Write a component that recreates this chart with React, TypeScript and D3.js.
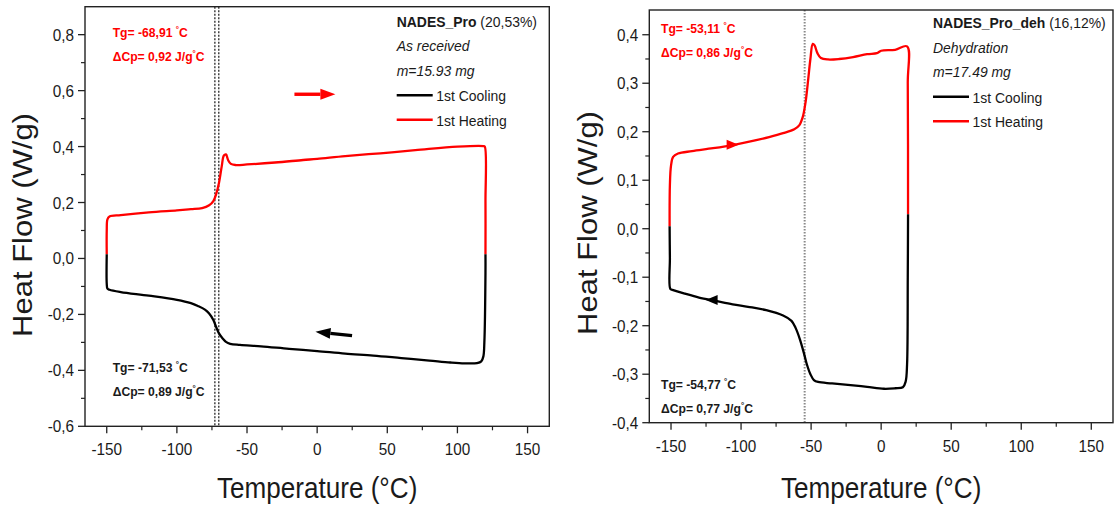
import React from "react";
import * as d3 from "d3";

// ---------- data ----------
type Pt = [number, number];

// Left panel: NADES_Pro (as received)
const leftHeating: Pt[] = [
  [-150, 0.015], [-150, 0.1], [-149.5, 0.14], [-148, 0.15], [-140, 0.155], [-120, 0.165],
  [-100, 0.172], [-90, 0.176], [-82, 0.18], [-77, 0.19], [-74, 0.205], [-72, 0.23],
  [-70, 0.27], [-68, 0.33], [-66.5, 0.368], [-65, 0.372], [-63.5, 0.352], [-61.5, 0.338],
  [-58, 0.334], [-50, 0.336], [-30, 0.343], [-10, 0.352], [0, 0.356], [20, 0.366],
  [45, 0.376], [70, 0.387], [100, 0.4], [118.5, 0.402], [119.5, 0.4], [120, 0.2], [120, 0.015],
];
const leftCooling: Pt[] = [
  [120, 0.015], [120, -0.05], [119.2, -0.3], [118.5, -0.35], [117, -0.368], [114, -0.374],
  [105, -0.375], [95, -0.372], [80, -0.365], [60, -0.356], [40, -0.347], [20, -0.34],
  [0, -0.331], [-20, -0.323], [-40, -0.314], [-55, -0.309], [-62, -0.305], [-65, -0.298],
  [-67.5, -0.285], [-70, -0.268], [-72, -0.245], [-74, -0.22], [-77, -0.197], [-80, -0.183],
  [-85, -0.17], [-90, -0.16], [-100, -0.148], [-120, -0.133], [-140, -0.12], [-148, -0.112],
  [-149.5, -0.108], [-150, -0.09], [-150, 0.015],
];

// Right panel: NADES_Pro_deh (dehydration)
const rightHeating: Pt[] = [
  [-151, 0.005], [-150.8, 0.09], [-150, 0.13], [-148.5, 0.148], [-145, 0.155], [-135, 0.16],
  [-120, 0.166], [-105, 0.173], [-90, 0.182], [-80, 0.189], [-70, 0.197], [-62, 0.205],
  [-58.5, 0.213], [-56, 0.23], [-54, 0.26], [-52, 0.31], [-50.5, 0.35], [-48.8, 0.381],
  [-47.5, 0.378], [-45.5, 0.362], [-43, 0.352], [-38, 0.349], [-30, 0.35], [-20, 0.354],
  [-10, 0.36], [-3, 0.362], [0, 0.367], [10, 0.369], [18.5, 0.376], [19, 0.3], [19.2, 0.03],
];
const rightCooling: Pt[] = [
  [19.2, 0.03], [19, -0.1], [18.5, -0.28], [17.5, -0.315], [15.5, -0.327], [10, -0.329],
  [2, -0.33], [-10, -0.326], [-20, -0.323], [-35, -0.319], [-45, -0.316], [-48, -0.312],
  [-50.5, -0.3], [-53, -0.28], [-55, -0.258], [-58, -0.228], [-61, -0.205], [-64, -0.19],
  [-70, -0.179], [-82, -0.168], [-95, -0.161], [-106, -0.156], [-118, -0.149], [-130, -0.142],
  [-140, -0.134], [-149, -0.126], [-150.5, -0.124], [-150.8, -0.06], [-151, 0.005],
];

const xTicks = [-150, -100, -50, 0, 50, 100, 150];
const xMinorTicks = [-125, -75, -25, 25, 75, 125];
const leftYTicks = [-0.6, -0.4, -0.2, 0, 0.2, 0.4, 0.6, 0.8];
const leftYMinor = [-0.5, -0.3, -0.1, 0.1, 0.3, 0.5, 0.7];
const rightYTicks = [-0.4, -0.3, -0.2, -0.1, 0, 0.1, 0.2, 0.3, 0.4];
const rightYMinor = [-0.35, -0.25, -0.15, -0.05, 0.05, 0.15, 0.25, 0.35];

const leftTgLines = [-72.9, -70.1];
const rightTgLines = [-54.6];

const leftLegend = { bold: "NADES_Pro", rest: " (20,53%)", cond: "As received", mass: "m=15.93 mg" };
const rightLegend = { bold: "NADES_Pro_deh", rest: " (16,12%)", cond: "Dehydration", mass: "m=17.49 mg" };
const seriesNames = ["1st Cooling", "1st Heating"];

const leftAnn = { heatTg: "-68,91", heatCp: "0,92", coolTg: "-71,53", coolCp: "0,89" };
const rightAnn = { heatTg: "-53,11", heatCp: "0,86", coolTg: "-54,77", coolCp: "0,77" };

// arrows in data units: [x1,y1,x2,y2] tail -> head
const leftArrows: { a: [number, number, number, number]; c: string }[] = [
  { a: [-16.2, 0.587, 13, 0.587], c: "#ff0000" },
  { a: [24.9, -0.276, -1.2, -0.262], c: "#000000" },
];
// small markers on curve (x, y, direction)
const rightMarkers: { x: number; y: number; dir: number; c: string }[] = [
  { x: -106, y: 0.173, dir: 1, c: "#ff0000" },
  { x: -121, y: -0.147, dir: -1, c: "#000000" },
];

const RED = "#ff0000";
const FONT = "'Liberation Sans', Arial, sans-serif";
const SQ = 0.9;

function fmt(v: number, digits: number) {
  return v.toFixed(digits).replace(".", ",").replace("-0,0", "0,0");
}

const T: React.FC<{
  x: number; y: number; size: number; anchor?: string; weight?: string; style?: string;
  fill?: string; rotate?: number; children: React.ReactNode;
}> = ({ x, y, size, anchor = "start", weight = "normal", style = "normal", fill = "#1a1a1a", rotate, children }) => (
  <g transform={`translate(${x},${y}) scale(${SQ},1)${rotate ? ` rotate(${rotate})` : ""}`}>
    <text x={0} y={0} fontSize={size} textAnchor={anchor} fontWeight={weight} fontStyle={style}
      fill={fill} fontFamily={FONT}>{children}</text>
  </g>
);

type PanelProps = {
  x0: number; x1: number; y0: number; y1: number;
  yDomain: [number, number]; yTicks: number[]; yMinor: number[]; yDigits: number;
  heating: Pt[]; cooling: Pt[]; tg: number[]; tgColor: string; tgWidth: number; tgDash: string;
  legend: typeof leftLegend; legendX: number; legendY: number;
  ann: typeof leftAnn; annX: number; annTopY: number; annBotY: number;
  yTitleX: number; yTitleY: number;
  arrows?: typeof leftArrows; markers?: typeof rightMarkers;
};

const Panel: React.FC<PanelProps> = (p) => {
  const xs = d3.scaleLinear().domain([-165.5, 165.5]).range([p.x0, p.x1]);
  const ys = d3.scaleLinear().domain(p.yDomain).range([p.y1, p.y0]);
  const line = d3.line<Pt>().x((d) => xs(d[0])).y((d) => ys(d[1])).curve(d3.curveCatmullRom.alpha(0.5));
  const axisColor = "#222";
  const annSize = 13.5;
  return (
    <g>
      {/* Tg dashed lines */}
      {p.tg.map((t, i) => (
        <line key={i} x1={xs(t)} x2={xs(t)} y1={p.y0} y2={p.y1} stroke={p.tgColor}
          strokeWidth={p.tgWidth} strokeDasharray={p.tgDash} />
      ))}
      {/* curves */}
      <path d={line(p.heating) || ""} fill="none" stroke={RED} strokeWidth={2.3} strokeLinejoin="round" />
      <path d={line(p.cooling) || ""} fill="none" stroke="#000" strokeWidth={2.3} strokeLinejoin="round" />
      {/* arrows */}
      {p.arrows && p.arrows.map((ar, i) => {
        const [ax1, ay1, ax2, ay2] = ar.a;
        const X1 = xs(ax1), Y1 = ys(ay1), X2 = xs(ax2), Y2 = ys(ay2);
        const ang = Math.atan2(Y2 - Y1, X2 - X1);
        const L = 15, W = 5.5;
        const bx = X2 - L * Math.cos(ang), by = Y2 - L * Math.sin(ang);
        const px = -Math.sin(ang) * W, py = Math.cos(ang) * W;
        return (
          <g key={i}>
            <line x1={X1} y1={Y1} x2={bx} y2={by} stroke={ar.c} strokeWidth={3.4} />
            <polygon points={`${X2},${Y2} ${bx + px},${by + py} ${bx - px},${by - py}`} fill={ar.c} />
          </g>
        );
      })}
      {p.markers && p.markers.map((m, i) => {
        const X = xs(m.x), Y = ys(m.y);
        const L = 12, W = 5;
        return (
          <polygon key={i} fill={m.c}
            points={`${X + (m.dir * L) / 2},${Y} ${X - (m.dir * L) / 2},${Y - W} ${X - (m.dir * L) / 2},${Y + W}`} />
        );
      })}
      {/* frame */}
      <rect x={p.x0} y={p.y0} width={p.x1 - p.x0} height={p.y1 - p.y0} fill="none" stroke={axisColor} strokeWidth={1.4} />
      {/* y ticks */}
      {p.yTicks.map((v) => (
        <g key={"y" + v}>
          <line x1={p.x0 - 7} x2={p.x0} y1={ys(v)} y2={ys(v)} stroke={axisColor} strokeWidth={1.3} />
          <T x={p.x0 - 11} y={ys(v) + 6} size={17} anchor="end">{fmt(v, p.yDigits)}</T>
        </g>
      ))}
      {p.yMinor.map((v) => (
        <line key={"ym" + v} x1={p.x0 - 4} x2={p.x0} y1={ys(v)} y2={ys(v)} stroke={axisColor} strokeWidth={1.2} />
      ))}
      {/* x ticks */}
      {xTicks.map((v) => (
        <g key={"x" + v}>
          <line x1={xs(v)} x2={xs(v)} y1={p.y1} y2={p.y1 + 7} stroke={axisColor} strokeWidth={1.3} />
          <T x={xs(v)} y={p.y1 + 29} size={17} anchor="middle">{String(v)}</T>
        </g>
      ))}
      {xMinorTicks.map((v) => (
        <line key={"xm" + v} x1={xs(v)} x2={xs(v)} y1={p.y1} y2={p.y1 + 4} stroke={axisColor} strokeWidth={1.2} />
      ))}
      {/* axis titles */}
      <T x={(p.x0 + p.x1) / 2} y={498} size={29} anchor="middle">Temperature (°C)</T>
      <T x={p.yTitleX} y={p.yTitleY} size={31} anchor="middle" rotate={-90}>Heat Flow (W/g)</T>
      {/* legend */}
      <g transform={`translate(${p.legendX},${p.legendY}) scale(${SQ},1)`}>
        <text fontFamily={FONT} fontSize={15.5} fill="#1a1a1a">
          <tspan fontWeight="bold">{p.legend.bold}</tspan>
          <tspan>{p.legend.rest}</tspan>
        </text>
        <text y={24.5} fontFamily={FONT} fontSize={15.5} fontStyle="italic" fill="#1a1a1a">{p.legend.cond}</text>
        <text y={49} fontFamily={FONT} fontSize={15.5} fontStyle="italic" fill="#1a1a1a">{p.legend.mass}</text>
        {seriesNames.map((s, i) => (
          <g key={s}>
            <line x1={0} x2={40} y1={68.5 + i * 24.5} y2={68.5 + i * 24.5} stroke={i === 0 ? "#000" : RED} strokeWidth={2.6} />
            <text x={44} y={74.5 + i * 24.5} fontFamily={FONT} fontSize={15.5} fill="#1a1a1a">{s}</text>
          </g>
        ))}
      </g>
      {/* Tg annotations */}
      <g transform={`translate(${p.annX},${p.annTopY}) scale(${SQ},1)`}>
        <text fontFamily={FONT} fontSize={annSize} fontWeight="bold" fill={RED}>
          {`Tg= ${p.ann.heatTg} `}<tspan fontSize={9} dy={-5}>°</tspan><tspan dy={5}>C</tspan>
        </text>
        <text y={24} fontFamily={FONT} fontSize={annSize} fontWeight="bold" fill={RED}>
          {`ΔCp= ${p.ann.heatCp} J/g`}<tspan fontSize={9} dy={-5}>°</tspan><tspan dy={5}>C</tspan>
        </text>
      </g>
      <g transform={`translate(${p.annX},${p.annBotY}) scale(${SQ},1)`}>
        <text fontFamily={FONT} fontSize={annSize} fontWeight="bold" fill="#1a1a1a">
          {`Tg= ${p.ann.coolTg} `}<tspan fontSize={9} dy={-5}>°</tspan><tspan dy={5}>C</tspan>
        </text>
        <text y={24} fontFamily={FONT} fontSize={annSize} fontWeight="bold" fill="#1a1a1a">
          {`ΔCp= ${p.ann.coolCp} J/g`}<tspan fontSize={9} dy={-5}>°</tspan><tspan dy={5}>C</tspan>
        </text>
      </g>
    </g>
  );
};

export default function App() {
  return (
    <svg width={1117} height={505} viewBox="0 0 1117 505"
      style={{ position: "absolute", left: 0, top: 0, background: "#fff" }}>
      <rect width={1117} height={505} fill="#fff" />
      <Panel x0={85} x1={549.3} y0={6.7} y1={426.3} yDomain={[-0.6, 0.9]}
        yTicks={leftYTicks} yMinor={leftYMinor} yDigits={1}
        heating={leftHeating} cooling={leftCooling} tg={leftTgLines} tgColor="#000" tgWidth={1.1} tgDash="2,1.5"
        legend={leftLegend} legendX={396.7} legendY={26.7}
        ann={leftAnn} annX={112.7} annTopY={36.7} annBotY={372}
        yTitleX={32} yTitleY={225} arrows={leftArrows} />
      <Panel x0={649.3} x1={1113} y0={10} y1={422.7} yDomain={[-0.4, 0.451]}
        yTicks={rightYTicks} yMinor={rightYMinor} yDigits={1}
        heating={rightHeating} cooling={rightCooling} tg={rightTgLines} tgColor="#8a8a8a" tgWidth={2} tgDash="1.5,1.5"
        legend={rightLegend} legendX={933} legendY={28.3}
        ann={rightAnn} annX={661} annTopY={33.3} annBotY={389.3}
        yTitleX={597} yTitleY={223} markers={rightMarkers} />
    </svg>
  );
}
